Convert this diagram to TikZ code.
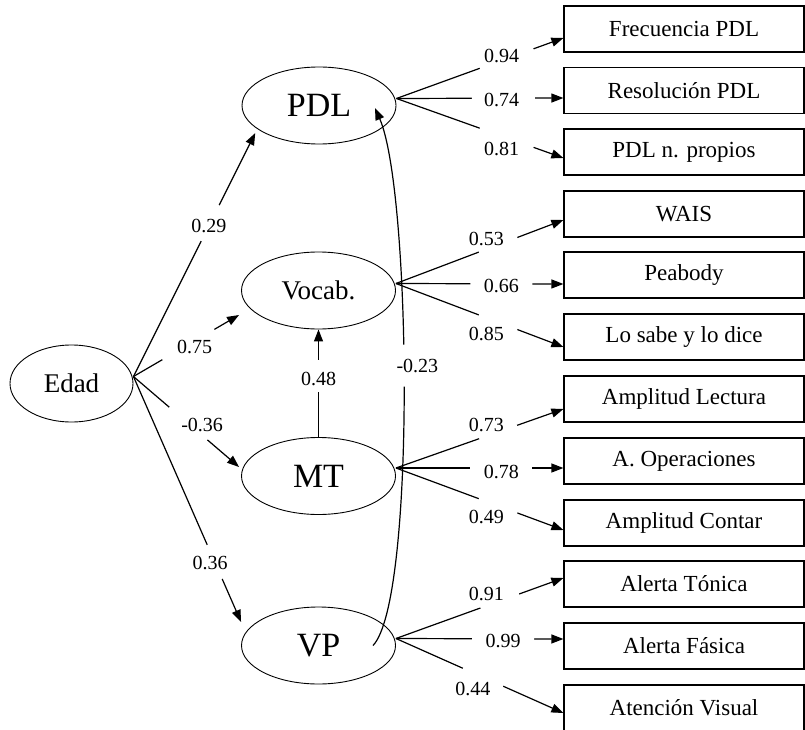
\documentclass[tikz,border=0pt]{standalone}
\usepackage{fontspec}
\setmainfont{Liberation Serif}
\usetikzlibrary{shapes.geometric,arrows.meta}

\tikzset{
  latent/.style={ellipse,draw,line width=0.9pt,minimum width=154pt,minimum height=77pt,
    inner sep=0pt,font=\fontsize{34}{34}\selectfont},
  obs/.style={rectangle,draw,line width=1.2pt,minimum width=240pt,minimum height=46pt,
    inner sep=0pt,font=\fontsize{23}{23}\selectfont},
  link/.style={line width=1.2pt,-{Triangle[length=12pt,width=9pt]}},
  gap/.style={sloped,fill=white,inner sep=0pt,minimum height=5pt,minimum width=#1},
  coef/.style={inner sep=0pt,font=\fontsize{20}{20}\selectfont},
}

\begin{document}
\begin{tikzpicture}[x=1pt,y=-1pt]
  \useasboundingbox (0,0) rectangle (805,730);

  % Latent variables
  \node[latent,minimum width=123pt,font=\fontsize{27}{27}\selectfont] (edad) at (71.5,383.5) {Edad};
  \node[latent] (pdl) at (319,105.5) {PDL};
  \node[latent,font=\fontsize{27}{27}\selectfont] (vocab) at (318.5,290.5) {Vocab.};
  \node[latent] (mt) at (318.5,476) {MT};
  \node[latent] (vp) at (318.5,645.5) {VP};

  % Observed measures
  \node[obs] (frec) at (684,29) {Frecuencia PDL};
  \node[obs] (resol) at (684,90.5) {Resolución PDL};
  \node[obs] (propios) at (684,152) {PDL n. propios};
  \node[obs] (wais) at (684,214) {WAIS};
  \node[obs] (peabody) at (684,275) {Peabody};
  \node[obs] (sabe) at (684,337) {Lo sabe y lo dice};
  \node[obs] (lectura) at (684,399) {Amplitud Lectura};
  \node[obs] (oper) at (684,461) {A. Operaciones};
  \node[obs] (contar) at (684,523) {Amplitud Contar};
  \node[obs] (tonica) at (684,584) {Alerta Tónica};
  \node[obs] (fasica) at (684,646) {Alerta Fásica};
  \node[obs] (visual) at (684,708) {Atención Visual};

  % Fan points
  \coordinate (edad-o) at ([yshift=7pt]edad.east);
  \coordinate (pdl-o) at ([yshift=7pt]pdl.east);
  \coordinate (vocab-o) at ([yshift=7pt]vocab.east);
  \coordinate (mt-o) at ([yshift=8pt]mt.east);
  \coordinate (vp-o) at ([yshift=7pt]vp.east);

  % Structural paths
  \draw[link] (edad-o) -- node[gap=40pt,pos=.63]{} node[coef,pos=.62]{0.29} ([xshift=-9pt]pdl.south west);
  \draw[link] (edad-o) -- node[gap=60pt,pos=.52]{} node[coef,pos=.58,yshift=-6pt]{0.75} ([xshift=-2pt,yshift=-24.5pt]vocab.west);
  \draw[link] (edad-o) -- node[gap=50pt,pos=.52]{} node[coef,pos=.65,yshift=10pt]{-0.36} ([xshift=-2pt,yshift=9pt]mt.west);
  \draw[link] (edad-o) -- node[gap=37pt,pos=.755]{} node[coef,pos=.76,xshift=-5pt]{0.36} ([yshift=23.5pt]vp.west);
  \draw[link] (mt) -- node[gap=32pt,pos=.57]{} node[coef,pos=.54]{0.48} (vocab);
  \draw[link] ([xshift=54.5pt]vp.center) .. controls +(43,-45) and +(36,82) ..
    node[gap=42pt,pos=.535]{} node[coef,pos=.535,xshift=14pt]{-0.23} ([xshift=56pt,yshift=-2.5pt]pdl.center);

  % Loadings
  \draw[link] (pdl-o) -- node[gap=57pt,pos=.66]{} node[coef,pos=.63,yshift=4pt]{0.94} ([yshift=-9pt]frec.west);
  \draw[link] (pdl-o) -- node[gap=63pt,pos=.64]{} node[coef,pos=.63,yshift=-2pt]{0.74} ([yshift=-7.5pt]resol.west);
  \draw[link] (pdl-o) -- node[gap=57pt,pos=.66]{} node[coef,pos=.63,yshift=-13pt]{0.81} ([yshift=-6pt]propios.west);

  \draw[link] (vocab-o) -- node[gap=41pt,pos=.61]{} node[coef,pos=.54,yshift=10pt]{0.53} ([yshift=-6pt]wais.west);
  \draw[link] (vocab-o) -- node[gap=62pt,pos=.63]{} node[coef,pos=.63,yshift=-2pt]{0.66} ([yshift=-9pt]peabody.west);
  \draw[link] (vocab-o) -- node[gap=41pt,pos=.61]{} node[coef,pos=.54,yshift=-16pt]{0.85} ([yshift=-10pt]sabe.west);

  \draw[link] (mt-o) -- node[gap=40pt,pos=.61]{} node[coef,pos=.54,yshift=11pt]{0.73} ([yshift=-10pt]lectura.west);
  \draw[link] (mt-o) -- node[gap=62pt,pos=.63]{} node[coef,pos=.63,yshift=-4pt]{0.78} ([yshift=-7pt]oper.west);
  \draw[link] (mt-o) -- node[gap=41pt,pos=.61]{} node[coef,pos=.54,yshift=-16pt]{0.49} ([yshift=-7pt]contar.west);

  \draw[link] (vp-o) -- node[gap=41pt,pos=.62]{} node[coef,pos=.54,yshift=12pt]{0.91} ([yshift=6pt]tonica.west);
  \draw[link] (vp-o) -- node[gap=62pt,pos=.64]{} node[coef,pos=.64,yshift=-2pt]{0.99} ([yshift=7pt]fasica.west);
  \draw[link] (vp-o) -- node[gap=44pt,pos=.52]{} node[coef,pos=.46,yshift=-16pt]{0.44} ([yshift=-5pt]visual.west);
\end{tikzpicture}
\end{document}
